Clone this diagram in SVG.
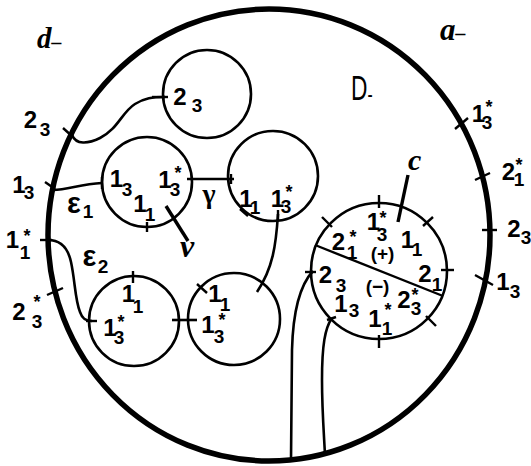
<svg xmlns="http://www.w3.org/2000/svg" width="531" height="466" viewBox="0 0 531 466">
<style>
.c{fill:none;stroke:#000;stroke-width:2.6}
.t{fill:none;stroke:#000;stroke-width:2.4;stroke-linecap:butt}
.k{fill:none;stroke:#000;stroke-width:3.4;stroke-linecap:butt}
text{fill:#000;font-family:"Liberation Sans",Arial,sans-serif;font-weight:bold;text-anchor:middle}
.m{font-size:24px}
.s{font-size:19px}
.st{font-size:18px}
.it{font-family:"Liberation Serif","Times New Roman",serif;font-style:italic;font-weight:bold;text-anchor:start}
.g{font-size:29px}
</style>
<rect width="531" height="466" fill="#fff"/>

<g id="outer">
<ellipse cx="269" cy="235" rx="221" ry="226" fill="none" stroke="#000" stroke-width="5.5"/>
<line class="t" x1="63" y1="128" x2="73" y2="137"/>
<line class="t" x1="45" y1="182" x2="55" y2="189"/>
<line class="t" x1="40" y1="240" x2="52" y2="240"/>
<line class="t" x1="47" y1="295" x2="63" y2="288"/>
<line class="t" x1="455" y1="129" x2="468" y2="118"/>
<line class="t" x1="475" y1="180" x2="490" y2="173"/>
<line class="t" x1="482" y1="230" x2="497" y2="230"/>
<line class="t" x1="475" y1="275" x2="493" y2="285"/>
<text class="m" x="30.5" y="128">2</text><text class="s" x="45" y="136">3</text>
<text class="m" x="19" y="193">1</text><text class="s" x="29" y="199">3</text>
<text class="m" x="12.5" y="248">1</text><text class="st" x="27" y="242">*</text><text class="s" x="25" y="259">1</text>
<text class="m" x="19" y="320">2</text><text class="st" x="37" y="308">*</text><text class="s" x="37" y="328">3</text>
<text class="m" x="478.5" y="122">1</text><text class="st" x="489" y="113">*</text><text class="s" x="487" y="129">3</text>
<text class="m" x="508.5" y="180">2</text><text class="st" x="519" y="171">*</text><text class="s" x="519" y="186">1</text>
<text class="m" x="514" y="237">2</text><text class="s" x="526" y="244" font-size="16">3</text>
<text class="m" x="503" y="290">1</text><text class="s" x="515" y="298">3</text>
</g>

<g id="labels">
<text class="it" x="37" y="48" font-size="29">d<tspan font-size="20" dy="1">–</tspan></text>
<text class="it" x="440" y="40" font-size="31">a<tspan font-size="20" dy="0">–</tspan></text>
<text transform="translate(351,100) scale(0.65,1)" font-size="35" style="font-weight:normal;text-anchor:start">D<tspan font-size="24" dy="2">-</tspan></text>
<text class="g" x="74" y="213">ε</text><text class="s" x="88" y="218">1</text>
<text class="g" x="89.5" y="266">ε</text><text class="s" x="103" y="273">2</text>
<text x="209" y="203" font-size="28" style="font-family:'Liberation Serif',serif;font-weight:bold">γ</text>
<text class="it" x="180" y="257" font-size="32">ν</text>
<text class="it" x="408" y="170" font-size="30">c</text>
</g>

<g id="n23top">
<circle class="c" cx="207" cy="94" r="44"/>
<line class="t" x1="152" y1="97" x2="168" y2="97"/>
<text class="m" x="180" y="105">2</text><text class="s" x="197" y="112">3</text>
</g>

<g id="e1">
<circle class="c" cx="147" cy="182" r="45"/>
<line class="t" x1="102" y1="177" x2="102" y2="189"/>
<line class="t" x1="147" y1="222" x2="147" y2="232"/>
<text class="m" x="116.5" y="187">1</text><text class="s" x="127" y="196">3</text>
<text class="m" x="140" y="212">1</text><text class="s" x="150" y="221">1</text>
<text class="m" x="165" y="188">1</text><text class="st" x="178" y="179">*</text><text class="s" x="175" y="196">3</text>
</g>

<g id="gammacircle">
<circle class="c" cx="273" cy="176" r="45"/>
<line class="t" x1="240" y1="209" x2="248" y2="216"/>
<line class="t" x1="278" y1="210" x2="278" y2="221"/>
<text class="m" x="246" y="207">1</text><text class="s" x="255" y="214">1</text>
<text class="m" x="277.5" y="207">1</text><text class="st" x="289" y="198">*</text><text class="s" x="286" y="213">3</text>
</g>

<g id="bl">
<circle class="c" cx="134" cy="321" r="45"/>
<line class="t" x1="133" y1="271" x2="133" y2="283"/>
<line class="t" x1="86" y1="321" x2="97" y2="321"/>
<text class="m" x="128.5" y="302">1</text><text class="s" x="138" y="313">1</text>
<text class="m" x="110" y="336">1</text><text class="st" x="121" y="328">*</text><text class="s" x="119" y="344">3</text>
</g>

<g id="br">
<circle class="c" cx="234" cy="319" r="46"/>
<line class="t" x1="197" y1="284" x2="207" y2="293"/>
<text class="m" x="215" y="302">1</text><text class="s" x="225" y="311">1</text>
<text class="m" x="208" y="333">1</text><text class="st" x="222" y="326">*</text><text class="s" x="219" y="343">3</text>
</g>

<g id="ccircle">
<circle class="c" cx="379" cy="271" r="68"/>
<line class="t" x1="315" y1="245" x2="443" y2="296"/>
<line class="t" x1="379" y1="195" x2="379" y2="208"/>
<line class="t" x1="322" y1="217" x2="332" y2="227"/>
<line class="t" x1="423" y1="226" x2="433" y2="217"/>
<line class="t" x1="441" y1="270" x2="454" y2="270"/>
<line class="t" x1="426" y1="316" x2="436" y2="326"/>
<line class="t" x1="379" y1="335" x2="379" y2="348"/>
<line class="t" x1="327" y1="320" x2="336" y2="317"/>
<line class="t" x1="305" y1="272" x2="316" y2="272"/>
<text class="m" x="373.5" y="230">1</text><text class="st" x="383" y="224">*</text><text class="s" x="382" y="241">3</text>
<text class="m" x="407.5" y="248">1</text><text class="s" x="417" y="256">1</text>
<text class="m" x="338.5" y="250">2</text><text class="st" x="353" y="243">*</text><text class="s" x="352" y="259">1</text>
<text x="382.5" y="260" font-size="19">(+)</text>
<text class="m" x="425" y="282">2</text><text class="s" x="437" y="291">1</text>
<text class="m" x="325.5" y="283">2</text><text class="s" x="341" y="292">3</text>
<text x="377.5" y="293" font-size="19">(−)</text>
<text class="m" x="341" y="312">1</text><text class="s" x="354" y="317">3</text>
<text class="m" x="404" y="308">2</text><text class="st" x="415" y="301">*</text><text class="s" x="416" y="315">3</text>
<text class="m" x="375" y="327">1</text><text class="st" x="388" y="316">*</text><text class="s" x="387" y="335">1</text>
</g>

<g id="connectors">
<path class="c" d="M72,135 C76,145 88,144 100,138 C118,129 122,112 135,104 C145,98 152,97 165,97"/>
<path class="c" d="M53,190 C68,190 80,184 102,183"/>
<path class="c" d="M48,240 C60,240 68,248 71,262 C75,280 75,300 80,312 C82,318 85,321 92,321"/>
<path class="c" d="M187,179 L234,179"/>
<line class="t" x1="231" y1="174" x2="231" y2="184"/>
<path class="c" d="M278,214 C276,245 273,268 257,292"/>
<path class="c" d="M172,320 L197,320"/>
<path class="c" d="M313,271 C300,285 293,310 292,350 L291,460"/>
<path class="c" d="M332,318 C325,328 322,345 322,380 C322,410 324,435 325,455"/>
<line class="k" x1="166" y1="206" x2="188" y2="241"/>
<line class="k" x1="398" y1="222" x2="408" y2="175"/>
</g>
</svg>
